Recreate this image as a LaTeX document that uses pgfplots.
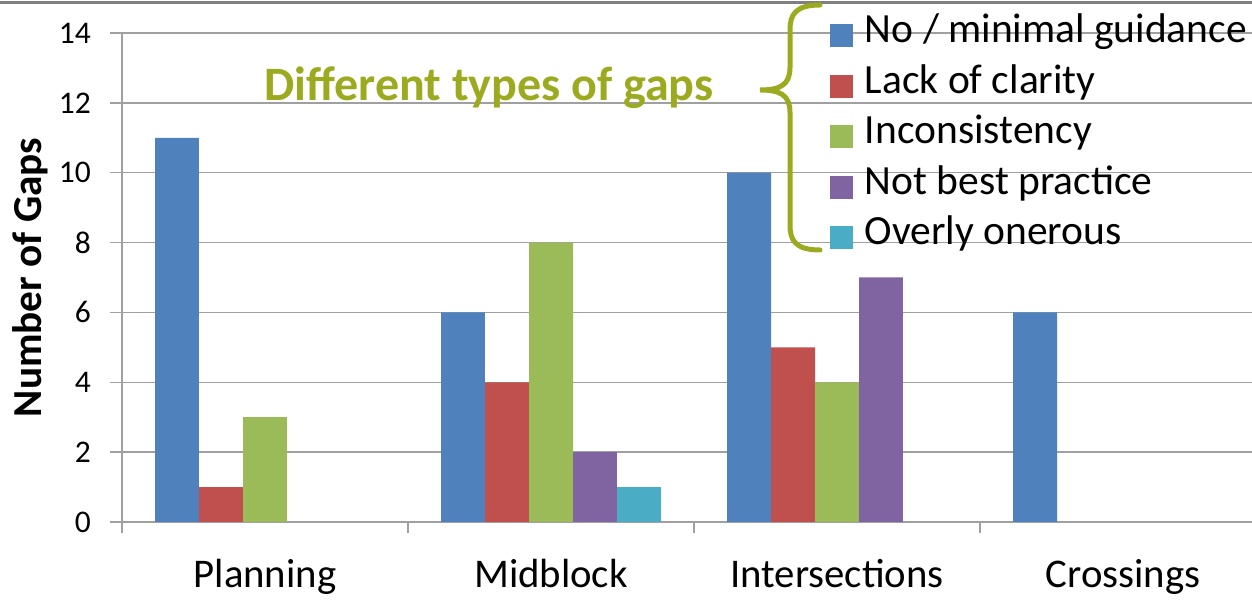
\documentclass[border=0pt]{standalone}
\usepackage{pgfplots}
\pgfplotsset{compat=1.18}
\usepackage{fontspec}
\setmainfont{Carlito}
\definecolor{sblue}{HTML}{4F81BD}
\definecolor{sred}{HTML}{C0504D}
\definecolor{sgreen}{HTML}{9BBB59}
\definecolor{spurple}{HTML}{8064A2}
\definecolor{scyan}{HTML}{4BACC6}
\definecolor{braceol}{HTML}{9BAA1E}
\definecolor{gridg}{HTML}{A0A0A0}
\begin{document}
\begin{tikzpicture}
\useasboundingbox (0,0) rectangle (500.8pt,240pt);
\draw[gray, line width=1.2pt] (0,238.8pt) -- (500.8pt,238.8pt);
\begin{axis}[
  at={(48.8pt,31.2pt)}, anchor=south west,
  scale only axis, width=452pt, height=195.6pt,
  xmin=0, xmax=3.951, ymin=0, ymax=14,
  ytick={0,2,...,14},
  xtick={0,1,2,3},
  xticklabels={Planning,Midblock,Intersections,Crossings},
  xticklabel style={xshift=57.2pt, yshift=-6.8pt, font=\fontsize{16.3}{16.3}\selectfont},
  yticklabel style={xshift=-4.3pt, font=\fontsize{12.6}{12.6}\selectfont},
  /pgf/number format/assume math mode=true,
  ymajorgrids, grid style={gridg, line width=0.6pt},
  axis x line=bottom, axis y line=left,
  axis line style={-, gridg, line width=0.6pt},
  tick align=outside, major tick length=4.6pt,
  tick style={gridg, line width=0.6pt},
  ybar=0pt, bar width=0.1538,
  every axis y label/.style={at={(axis description cs:-0.0814,0.5)}, rotate=90, anchor=center, font=\fontsize{16.5}{16.5}\selectfont\bfseries},
  ylabel={Number of Gaps},
  legend style={at={(axis description cs:0.6265,1.047)}, anchor=north west, draw=none, fill=none,
    inner sep=0pt, font=\fontsize{16.6}{20}\selectfont, row sep=0pt,
    nodes={inner ysep=0pt, inner xsep=4.6pt, text height=12.8pt, text depth=7.4pt}},
  legend cell align=left,
  sq/.style={legend image code/.code={\fill[##1] (0pt,-4.6pt) rectangle (9.2pt,4.6pt);}},
  clip=false,
]
\addplot[fill=sblue, draw=none, bar shift=-0.3077, sq] coordinates {(0.5,11) (1.5,6) (2.5,10) (3.5,6)};
\addplot[fill=sred, draw=none, bar shift=-0.1538, sq] coordinates {(0.5,1) (1.5,4) (2.5,5)};
\addplot[fill=sgreen, draw=none, bar shift=0, sq] coordinates {(0.5,3) (1.5,8) (2.5,4)};
\addplot[fill=spurple, draw=none, bar shift=0.1538, sq] coordinates {(1.5,2) (2.5,7)};
\addplot[fill=scyan, draw=none, bar shift=0.3077, sq] coordinates {(1.5,1)};
\legend{No / minimal guidance, Lack of clarity, Inconsistency, Not best practice, Overly onerous}
\end{axis}
\draw[braceol, line width=2pt, line cap=round]
  (328pt,238pt) .. controls (318pt,238pt) and (316pt,234pt) .. (316pt,228pt)
  -- (316pt,213pt) .. controls (316pt,206pt) and (312pt,204pt) .. (304pt,204pt)
  .. controls (312pt,204pt) and (316pt,202pt) .. (316pt,195pt)
  -- (316pt,150pt) .. controls (316pt,144pt) and (318pt,140pt) .. (328pt,140pt);
\node[font=\fontsize{19.2}{19.2}\selectfont\bfseries, text=braceol] at (195.6pt,204.8pt) {Different types of gaps};
\end{tikzpicture}
\end{document}
